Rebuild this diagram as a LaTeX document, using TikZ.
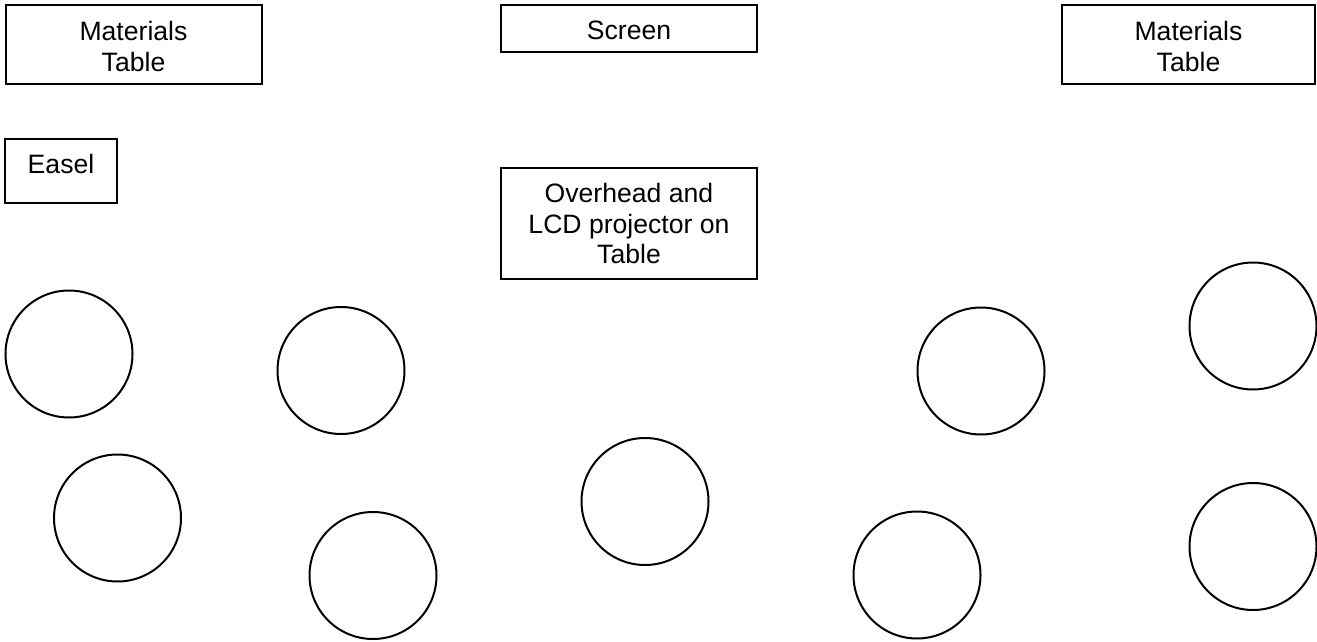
\documentclass[tikz,border=0pt]{standalone}
\usepackage{fontspec}
\setmainfont{Liberation Sans}
\usetikzlibrary{positioning}
\begin{document}
\begin{tikzpicture}[x=0.5pt, y=-0.5pt, line width=1pt, font=\fontsize{13.3}{15.2}\selectfont,
	box/.style={draw, rectangle, inner sep=0pt},
	seat/.style={draw, circle, minimum size=63.5pt, inner sep=0pt},
	caption/.style={align=center, inner sep=0pt}]
	\useasboundingbox (0, 0) rectangle (1317, 642);
	
	\node[box, minimum width=128pt, minimum height=39.5pt] (matl) at (133.5, 44.5) {};
	\node[box, minimum width=128pt, minimum height=23.5pt] (screen) at (629, 28.5) {};
	\node[box, minimum width=126.5pt, minimum height=39.5pt] (matr) at (1188.5, 44.5) {};
	\node[box, minimum width=56pt, minimum height=32pt] (easel) at (61, 171) {};
	\node[box, minimum width=128pt, minimum height=55.5pt] (proj) at (629, 223.5) {};
	
	\node[caption, below=8.2pt of matl.north] (matltext) {Materials\\Table};
	\node[caption, below=8.2pt of screen.north] (screentext) {Screen};
	\node[caption, below=8.2pt of matr.north] (matrtext) {Materials\\Table};
	\node[caption, below=7.8pt of easel.north] (easeltext) {Easel};
	\node[caption, below=7.8pt of proj.north] (projtext) {Overhead and\\LCD projector on\\Table}; % text sits at the top of the box
	
	\node[seat] (seatA) at (69, 354) {};
	\node[seat] (seatB) at (341, 370.5) {};
	\node[seat] (seatC) at (117.5, 518) {};
	\node[seat] (seatD) at (373, 575.5) {};
	\node[seat] (seatE) at (645, 501.5) {};
	\node[seat] (seatF) at (981, 371) {};
	\node[seat] (seatG) at (1253, 326) {};
	\node[seat] (seatH) at (917, 575) {};
	\node[seat] (seatI) at (1253, 546.5) {};
\end{tikzpicture}
\end{document}
